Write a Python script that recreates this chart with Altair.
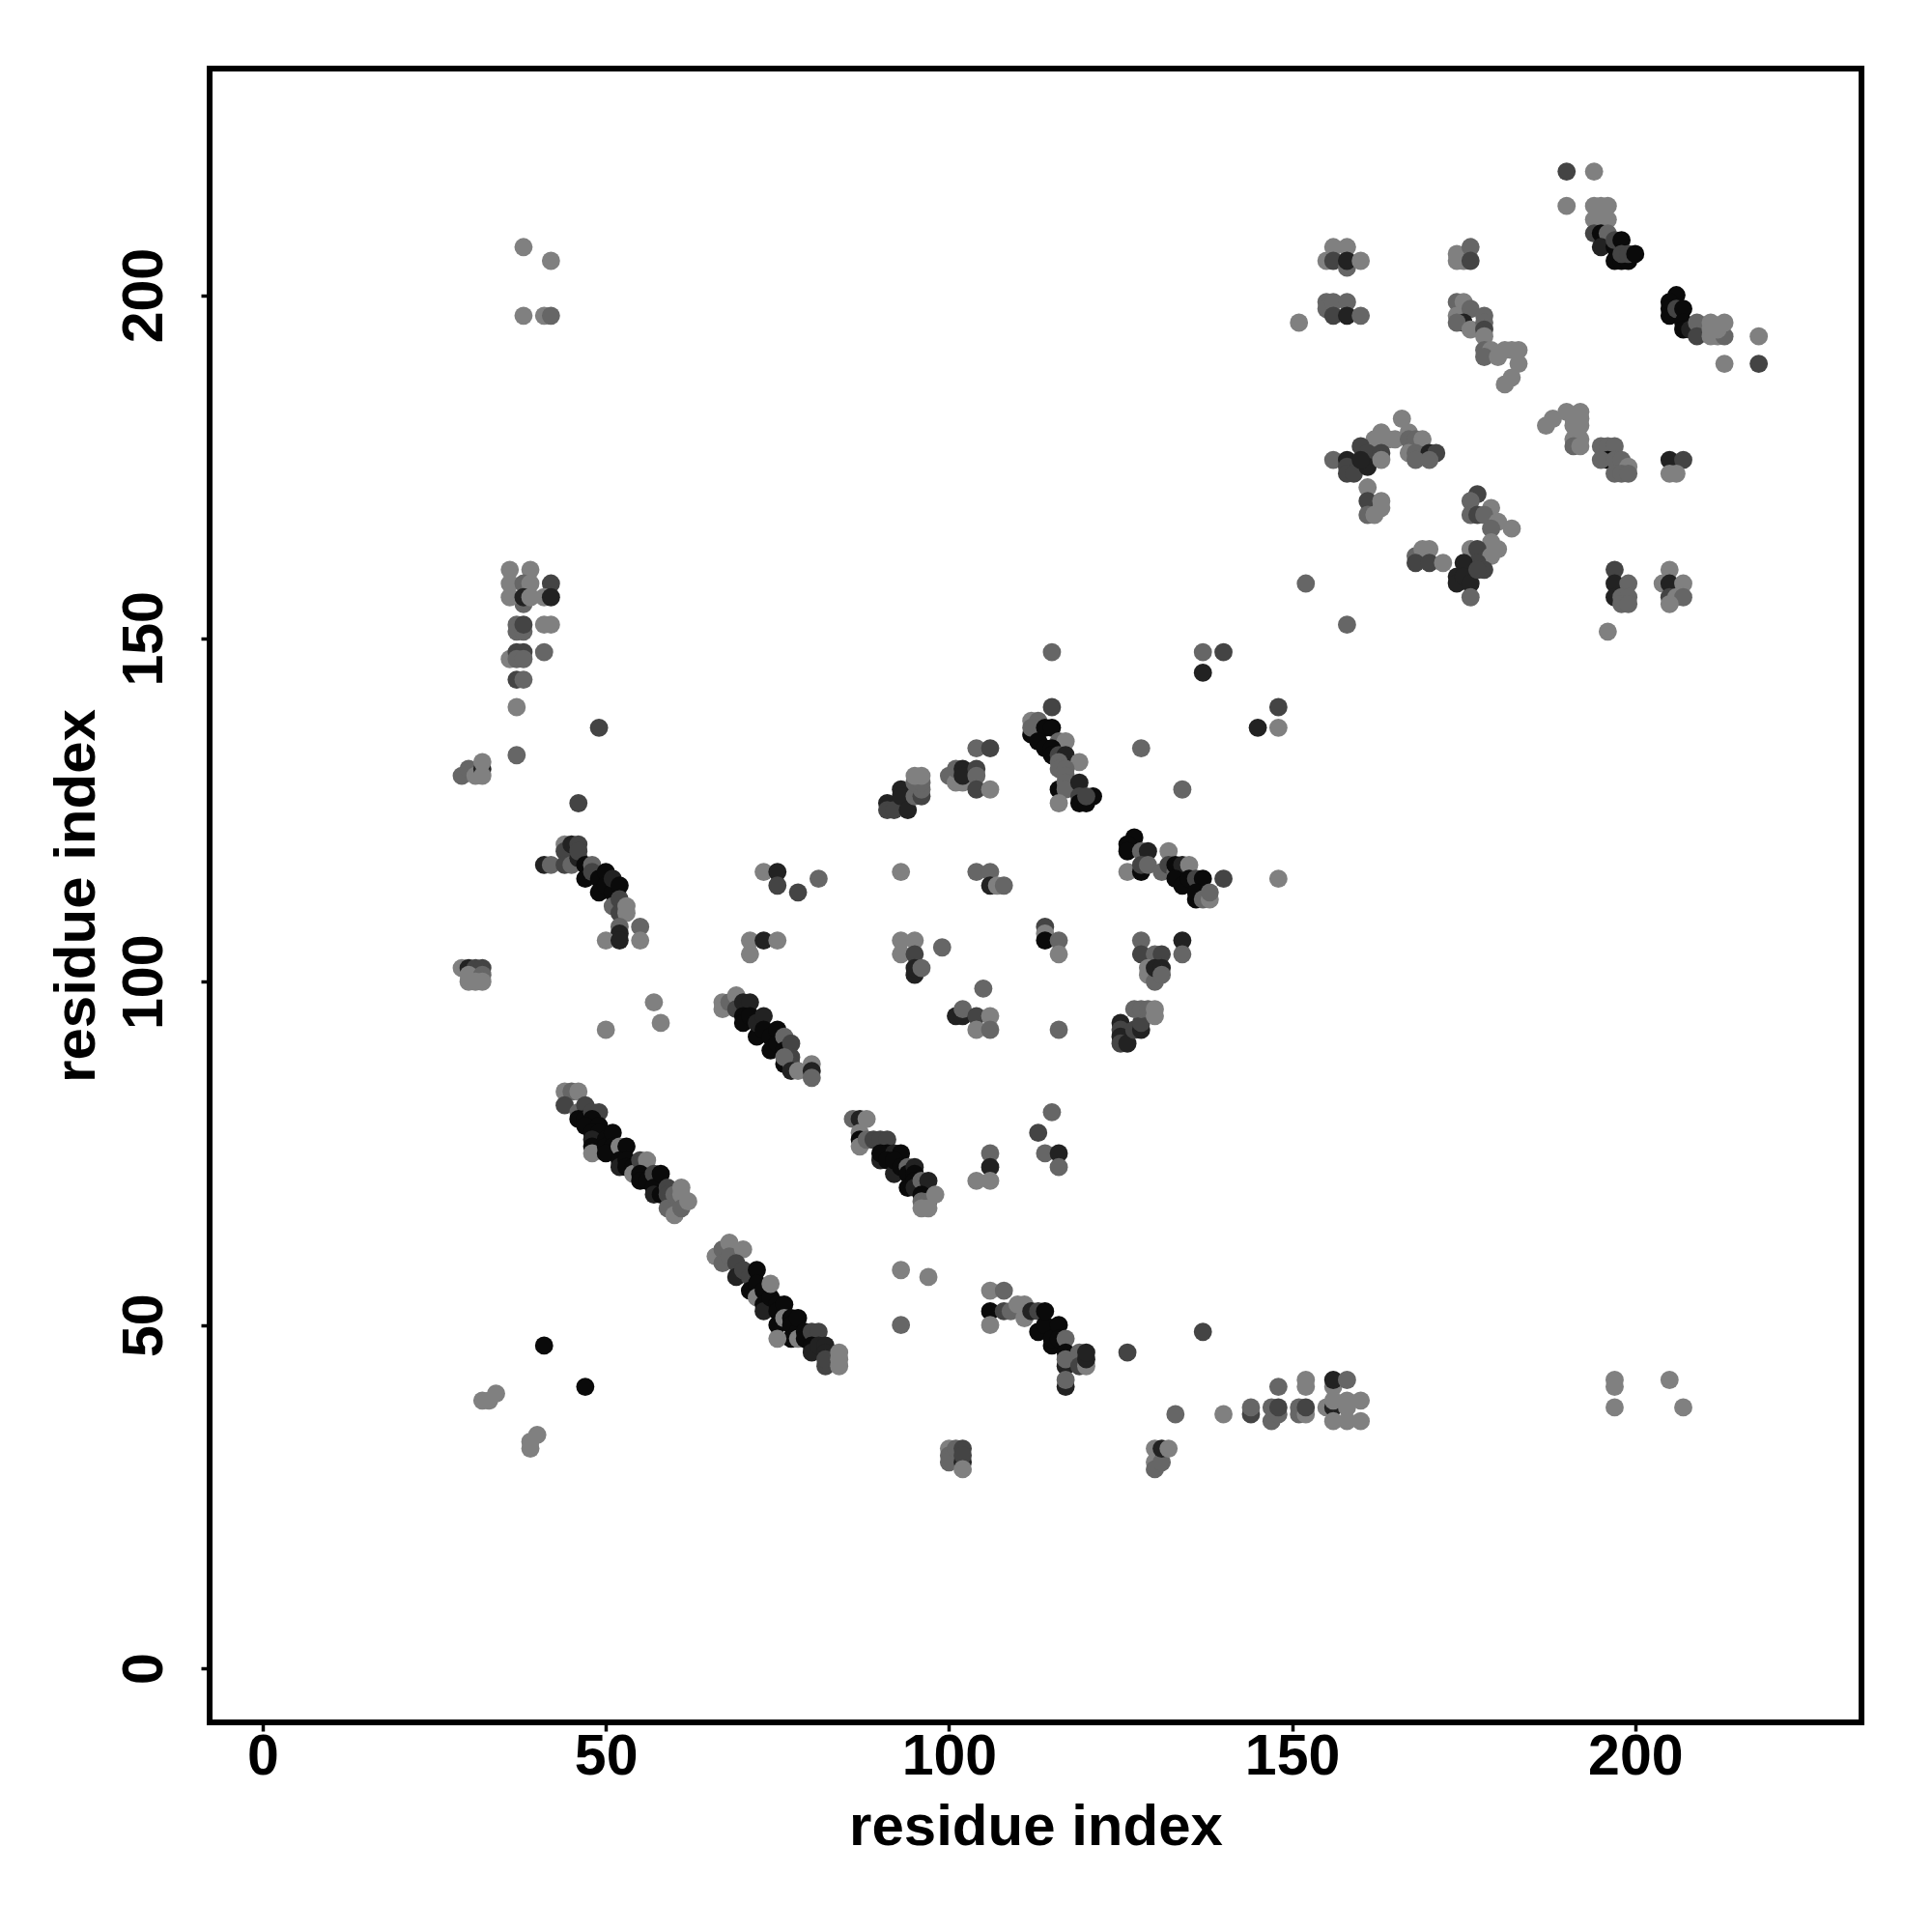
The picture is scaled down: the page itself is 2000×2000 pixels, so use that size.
import altair as alt
import pandas as pd

L, M, D, V, K = 0.0, 0.22, 0.51, 0.8, 1.0

diag_a = [(44,84,L),(45,84,M),(46,84,L),(44,82,D),(46,81,M),(47,82,D),(46,80,K),(47,80,K),(48,81,D),(49,81,D),(48,80,K),
          (47,79,K),(49,79,K),(48,78,K),(49,78,K),(48,77,V),(48,76,K),(48,75,L),(50,77,K),(50,76,K),(51,78,K),(51,76,K),(50,75,K),
          (52,76,L),(53,76,K),(52,74,K),(52,73,V),(53,74,K),(53,73,K),(54,73,K),(54,72,L),(55,74,D),(56,74,L),(55,72,K),(55,71,K),(56,71,K),
          (57,72,D),(57,70,K),(58,72,K),(57,69,V),(58,69,K),(59,70,D),(59,69,D),(59,67,M),(60,69,M),(60,66,L),(61,70,L),(61,69,L),(61,67,M),(62,68,L)]
diag_d = [(66,60,L),(67,61,M),(68,62,L),(67,59,M),(68,60,M),(70,61,L),(69,59,D),(69,57,V),(70,58,D),(71,57,D),(71,55,K),(72,58,K),(72,56,K),
          (72,54,L),(73,55,K),(73,53,K),(73,52,V),(74,54,K),(74,56,L),(75,53,K),(75,52,K),(75,50,K),(76,53,K),(76,51,L),(77,51,K),
          (77,50,K),(77,48,K),(75,48,L),(78,49,K),(78,48,L),(78,51,K),(79,49,K),(79,48,K),(80,49,D),(81,49,D),(80,47,K),(80,46,V),(81,47,V),
          (82,47,V),(82,46,V),(82,44,D),(82,45,D),(84,46,L),(84,45,L),(84,44,L)]
diag_b = [(67,97,L),(67,96,L),(68,97,M),(69,98,L),(69,96,D),(70,97,V),(71,97,V),(70,95,K),(70,94,K),(71,95,K),(72,92,K),(72,94,V),(73,95,V),
          (73,93,K),(74,92,K),(74,90,K),(75,93,K),(75,91,K),(76,92,M),(76,88,K),(76,90,K),(77,91,D),(77,89,D),(77,88,D),
          (76,89,M),(77,87,V),(78,87,L),(80,88,L),(80,87,V),(80,86,M)]
diag_c = [(86,80,M),(87,80,V),(88,80,L),(87,78,L),(87,77,K),(87,76,L),(88,77,M),(89,77,D),(90,77,D),(91,77,D),(90,74,V),(91,75,K),(90,75,K),
          (92,75,V),(93,75,K),(91,74,K),(92,72,V),(92,74,K),(93,73,K),(94,73,M),(94,72,K),(95,73,V),(94,70,K),(95,72,K),(95,71,K),(95,70,V),
          (96,71,M),(97,71,V),(96,69,K),(96,68,M),(97,68,M),(96,67,L),(97,67,L),(98,69,L)]
upper_a = [(41,117,V),(42,117,M),(44,120,L),(44,119,D),(44,117,D),(45,117,M),(46,118,V),(45,120,V),(46,120,D),(46,119,D),(47,117,K),(48,117,M),(47,115,K),(48,116,D),
           (49,115,K),(49,113,K),(50,116,K),(50,114,K),(51,113,K),(51,115,V),(51,111,M),(52,114,K),(52,112,D),(52,110,D),(53,111,L),(53,110,L),
           (52,108,M),(52,107,V),(50,106,L),(52,106,V),(55,108,M),(55,106,L),(46,126,D),(49,137,D)]
far_left = [(29,102,L),(30,102,V),(31,102,D),(32,102,D),(30,101,L),(32,101,M),(30,100,L),(31,100,L),(32,100,L),
            (57,97,L),(58,94,L),(50,93,L),(71,106,L),(73,106,V),(75,106,L),(71,104,L),(73,116,L),(75,116,V),(75,114,D),(78,113,D),(81,115,M),
            (29,130,M),(30,131,M),(31,130,L),(32,131,V),(32,130,L),(32,132,L)]
column = [(36,160,L),(39,160,L),(36,158,L),(38,158,M),(39,158,L),(42,158,D),(38,155,M),(36,156,L),(38,156,V),(39,156,L),(41,156,L),(42,156,V),
          (37,152,M),(37,151,M),(38,151,M),(38,152,D),(41,152,L),(42,152,L),(36,147,L),(37,148,D),(38,148,D),(37,147,M),(38,147,M),(41,148,M),
          (37,144,D),(38,144,M),(37,140,L),(37,133,M)]
top_left = [(38,207,L),(42,205,L),(38,197,L),(41,197,L),(42,197,M)]
low_left = [(41,47,K),(47,41,K),(32,39,L),(33,39,L),(34,40,L),(39,32,L),(39,33,L),(40,34,L),(93,58,L),(97,57,L),(93,50,M)]
lower_mid = [(106,55,L),(108,55,M),(106,52,K),(108,52,D),(109,52,M),(106,50,L),(110,53,L),(111,53,L),(111,51,L),(112,52,V),(113,52,D),(113,49,K),(114,50,K),
             (114,52,K),(115,47,K),(115,48,K),(116,50,K),(116,48,K),(117,48,M),(117,46,K),(117,44,V),(117,45,M),(117,41,V),(117,42,M),
             (119,46,M),(119,44,D),(120,44,L),(120,45,V),(120,46,V),(126,46,D),(137,49,D)]
bottom_row = [(133,37,M),(140,37,L),(144,37,D),(144,38,M),(147,36,M),(147,38,M),(148,37,M),(148,38,D),(148,41,M),(151,37,M),(151,38,M),(152,37,L),(152,38,D),
              (152,41,L),(152,42,L),(155,38,L),(156,41,L),(156,42,V),(156,38,V),(156,39,L),(156,36,L),(158,36,L),(158,42,M),(158,39,L),(158,38,L),(160,39,L),(160,36,L),
              (197,42,L),(197,41,L),(197,38,L),(205,42,L),(207,38,L),
              (100,32,L),(100,31,M),(100,30,M),(101,32,M),(102,30,V),(102,32,D),(102,31,D),(102,29,L),
              (130,32,L),(130,30,L),(130,29,M),(131,30,M),(131,32,V),(132,32,L)]
mid_upper = [(115,140,D),(112,138,L),(113,138,M),(112,136,K),(112,137,M),(114,137,K),(115,137,K),(113,135,K),(116,135,M),(117,135,L),(114,134,K),(115,134,K),(115,133,K),
             (116,133,D),(117,133,V),(116,132,M),(119,132,L),(116,131,M),(117,131,M),(116,128,K),(117,130,M),(117,129,M),(117,128,M),(119,129,V),(119,127,D),
             (119,126,K),(120,126,K),(121,127,K),(120,127,D),(116,126,L),(128,134,M),(134,128,M),(148,140,D),(145,137,V),(148,137,L),(137,145,V),(137,148,M),(140,148,D),(115,148,M),
             (104,134,M),(106,134,D),(100,130,M),(101,129,L),(102,129,L),(101,131,M),(102,131,V),(102,130,V),(104,131,D),(104,130,M),(104,128,D),(106,128,L),
             (91,126,V),(91,125,D),(92,125,D),(93,128,V),(93,127,V),(94,125,V),(95,127,M),(96,127,D),(96,128,M),(95,129,M),(96,129,M),(95,130,L),(96,130,L),
             (93,116,L),(104,116,M),(106,116,M),(106,114,V),(107,114,L),(108,114,M)]
mid_right = [(127,121,K),(126,120,K),(126,119,K),(128,119,M),(129,119,V),(132,119,L),(126,116,L),(128,116,K),(128,117,D),(129,117,M),(131,116,M),(132,117,D),(133,116,M),
             (133,117,K),(134,117,V),(133,115,K),(135,117,L),(134,114,K),(135,115,K),(136,112,K),(136,115,D),(137,115,K),(136,113,K),(137,112,M),(138,112,L),(138,113,M),(140,115,D),(148,115,L),
             (114,108,D),(114,107,L),(114,106,K),(116,106,M),(116,104,L),(93,106,L),(95,106,L),(93,104,L),(95,101,V),(95,104,D),(95,102,V),(96,102,M),(99,105,M),
             (128,106,M),(128,104,D),(130,104,M),(131,104,D),(134,106,V),(134,104,M),(129,102,L),(129,101,L),(130,100,M),(130,102,V),(131,102,V),(131,101,M),
             (105,99,M),(101,95,V),(102,95,V),(102,96,M),(104,95,D),(106,95,L),(104,93,L),(106,93,M),(116,93,M),
             (125,94,V),(125,93,D),(125,92,V),(125,91,D),(126,91,V),(127,93,D),(128,93,V),(128,94,D),(127,96,M),(128,96,M),(129,96,M),(130,96,L),(130,95,L),
             (115,81,M),(113,78,D),(114,75,M),(116,75,V),(116,73,M),(106,75,M),(106,73,V),(106,71,L),(104,71,L)]
upper_left = [(151,196,L),(155,199,M),(155,198,M),(156,199,M),(156,197,D),(158,199,M),(158,197,V),(160,197,M),
              (156,207,L),(158,207,L),(155,205,L),(156,205,D),(158,204,M),(158,205,V),(160,205,L),
              (174,205,L),(174,206,L),(175,205,L),(176,207,M),(176,205,D),
              (174,199,M),(175,199,L),(174,197,L),(176,198,M),(175,196,V),(174,196,M),(176,195,L),(178,197,M),(178,196,M),(178,195,D),(178,194,L),
              (178,192,M),(179,192,L),(181,192,L),(182,192,L),(183,192,L),(178,191,M),(180,191,L),(183,190,L),(182,188,L),(181,187,L),
              (152,158,M),(158,152,M),(196,151,L)]
upper_mid = [(166,182,L),(163,180,L),(167,180,L),(162,179,L),(163,179,L),(164,179,L),(165,179,L),(167,179,M),(168,179,M),(169,179,L),
             (160,178,D),(161,177,D),(163,177,D),(167,177,L),(168,177,M),(170,177,V),(171,177,D),(156,176,M),(158,176,V),(158,175,D),(158,174,D),(159,174,D),(161,175,V),
             (160,176,V),(163,176,L),(168,176,M),(170,176,M),(161,172,L),(161,170,D),(163,170,L),(161,168,M),(162,168,L),(163,169,L),
             (177,171,D),(176,170,M),(176,168,M),(177,168,D),(179,169,L),(178,168,M),(180,167,L),(179,166,M),(182,166,L),
             (179,164,L),(176,163,L),(177,163,D),(180,163,L),(179,162,L),(177,161,D),(178,160,D),(175,161,V),(174,159,V),(174,158,V),(175,159,V),(176,158,V),(177,160,D),(176,156,M),
             (168,162,M),(169,163,L),(170,163,L),(168,161,D),(170,161,D),(172,161,L)]
upper_right = [(197,160,D),(197,158,V),(199,158,M),(197,156,V),(198,156,M),(199,156,M),(198,155,M),(199,155,M),
               (205,160,L),(204,158,L),(205,158,V),(207,158,L),(205,156,D),(206,156,L),(207,156,M),(205,155,L),
               (205,176,V),(207,176,D),(205,174,L),(206,174,L),
               (188,182,L),(187,181,L),(190,183,L),(192,183,L),(191,182,L),(192,182,L),(191,181,L),(192,181,L),(191,179,L),(192,179,L),(191,178,M),(192,178,L),
               (195,178,M),(196,178,M),(197,178,M),(196,176,K),(195,176,M),(197,176,M),(198,176,M),(199,175,L),(197,174,M),(198,174,M),(199,174,M)]
top_right = [(190,218,D),(194,218,L),(190,213,L),(194,213,L),(195,213,L),(196,213,L),(194,211,L),(195,211,L),(196,211,L),
             (194,209,D),(195,209,K),(196,209,M),(195,207,V),(197,207,K),(197,208,D),(198,208,K),(197,205,K),(198,205,K),(199,205,K),(198,206,D),(199,206,D),(200,206,K),
             (206,200,K),(205,199,K),(205,198,K),(205,197,K),(206,198,D),(207,198,K),(207,196,K),(207,195,K),(208,195,V),(209,196,M),(209,194,D),
             (211,194,L),(212,194,L),(213,194,M),(211,195,L),(212,195,L),(211,196,L),(213,196,L),(218,194,L),(213,190,L),(218,190,D)]

clusters = [far_left, column, top_left, low_left, upper_a, diag_a, diag_b, diag_c, diag_d, lower_mid, bottom_row,
            mid_upper, mid_right, upper_left, upper_mid, upper_right, top_right]
rows = [p for c in clusters for p in c]
df = pd.DataFrame(rows, columns=["x", "y", "s"])
df["i"] = range(len(df))

FONT = "Liberation Sans"
ticks = [0, 50, 100, 150, 200]

chart = alt.Chart(df).mark_circle(size=355, opacity=1).encode(
    x=alt.X("x:Q", scale=alt.Scale(domain=[-7.74, 232.97], nice=False, zero=False),
            axis=alt.Axis(values=ticks, title="residue index", grid=False, domain=False, tickSize=9, tickWidth=3.5,
                          tickColor="black", labelFont=FONT, labelFontSize=59, labelFontWeight="bold", labelColor="black",
                          labelPadding=-3, titleFont=FONT, titleFontSize=60, titleFontWeight="bold", titleColor="black",
                          titlePadding=14, labelFlush=False, labelOverlap=False, format="d")),
    y=alt.Y("y:Q", scale=alt.Scale(domain=[-7.88, 233.0], nice=False, zero=False),
            axis=alt.Axis(values=ticks, title="residue index", grid=False, domain=False, tickSize=9, tickWidth=3.5,
                          tickColor="black", labelFont=FONT, labelFontSize=59, labelFontWeight="bold", labelColor="black",
                          labelAngle=270, labelAlign="center", labelBaseline="bottom", labelPadding=29,
                          titleFont=FONT, titleFontSize=60, titleFontWeight="bold", titleColor="black",
                          titlePadding=10, labelFlush=False, labelOverlap=False, format="d")),
    color=alt.Color("s:Q", legend=None,
                    scale=alt.Scale(domain=[0, 1], range=["#808080", "#0a0a0a"], interpolate="rgb")),
    order=alt.Order("i:Q"),
).properties(
    width=1710, height=1712,
    padding={"left": 209, "top": 63, "right": 40, "bottom": 200},
    autosize=alt.AutoSizeParams(type="none"),
    background="white",
).configure_view(stroke="black", strokeWidth=6)

chart.save("out.html", embed_options={"renderer": "svg", "actions": False})
